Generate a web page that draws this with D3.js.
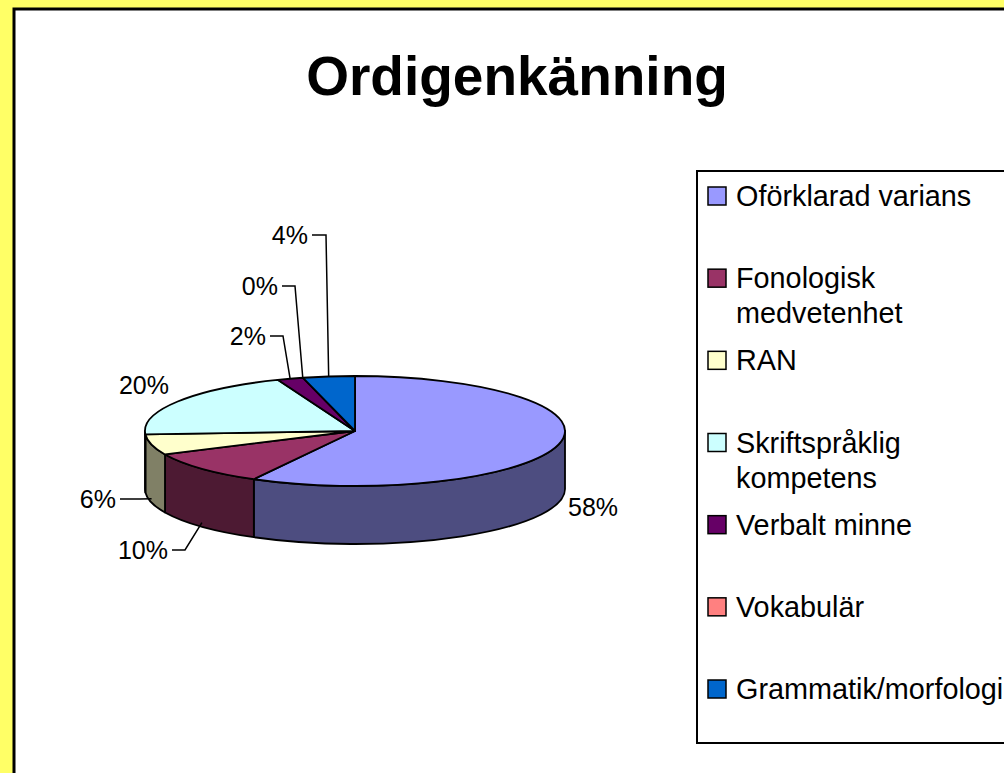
<!DOCTYPE html>
<html>
<head>
<meta charset="utf-8">
<script src="https://cdn.jsdelivr.net/npm/d3@7"></script>
<style>
  body { margin: 0; overflow: hidden; background: #ffff66; }
  text { font-family: "Liberation Sans", Arial, sans-serif; fill: #000; }
</style>
</head>
<body>
<script>
// data
var kategorier = ["Oförklarad varians", "Fonologisk medvetenhet", "RAN", "Skriftspråklig kompetens", "Verbalt minne", "Vokabulär", "Grammatik/morfologi"];
var legendRader = [["Oförklarad varians"], ["Fonologisk", "medvetenhet"], ["RAN"], ["Skriftspråklig", "kompetens"], ["Verbalt minne"], ["Vokabulär"], ["Grammatik/morfologi"]];
var andelar = [58, 10, 6, 20, 2, 0, 4];
var kleuren = ["#9999ff", "#993366", "#ffffcc", "#ccffff", "#660066", "#ff8080", "#0066cc"];
var titel = "Ordigenkänning";

var breedte = 1004, hoogte = 773;

var svg = d3.select("body").append("svg")
    .attr("width", breedte)
    .attr("height", hoogte);

// gele rand + wit vlak
svg.append("rect").attr("width", breedte).attr("height", hoogte).attr("fill", "#ffff66");
svg.append("rect")
    .attr("x", 14).attr("y", 9)
    .attr("width", breedte + 20).attr("height", hoogte + 20)
    .attr("fill", "#fff").attr("stroke", "#000").attr("stroke-width", 3);

svg.append("text")
    .attr("x", 517).attr("y", 95)
    .attr("text-anchor", "middle")
    .attr("font-size", "55px")
    .attr("font-weight", "bold")
    .text(titel);

// 3D taart
var cx = 355, cy = 431, rx = 210, ry = 55, diepte = 58;

var pie = d3.pie().sort(null).value(function(d) { return d; });
var stukken = pie(andelar);

function punt(a, dy) {
  return [cx + rx * Math.sin(a), cy - ry * Math.cos(a) + (dy || 0)];
}

var taart = svg.append("g");

// zijkanten (alleen voorkant zichtbaar)
stukken.forEach(function(s, i) {
  var a0 = Math.max(s.startAngle, Math.PI / 2);
  var a1 = Math.min(s.endAngle, 3 * Math.PI / 2);
  if (a1 <= a0) return;
  var p0 = punt(a0), p1 = punt(a1), q1 = punt(a1, diepte), q0 = punt(a0, diepte);
  var groot = (a1 - a0) > Math.PI ? 1 : 0;
  var c = d3.rgb(kleuren[i]);
  var donker = d3.rgb(c.r / 2, c.g / 2, c.b / 2);
  var p = "M" + p0 + "A" + rx + "," + ry + " 0 " + groot + " 1 " + p1 +
          "L" + q1 + "A" + rx + "," + ry + " 0 " + groot + " 0 " + q0 + "Z";
  taart.append("path")
      .attr("d", p)
      .attr("fill", donker)
      .attr("stroke", "#000")
      .attr("stroke-width", 1.8)
      .attr("stroke-linejoin", "round");
});

// bovenkant
stukken.forEach(function(s, i) {
  if (s.endAngle - s.startAngle <= 0) return;
  var p0 = punt(s.startAngle), p1 = punt(s.endAngle);
  var groot = (s.endAngle - s.startAngle) > Math.PI ? 1 : 0;
  var p = "M" + cx + "," + cy + "L" + p0 + "A" + rx + "," + ry + " 0 " + groot + " 1 " + p1 + "Z";
  taart.append("path")
      .attr("d", p)
      .attr("fill", kleuren[i])
      .attr("stroke", "#000")
      .attr("stroke-width", 1.8)
      .attr("stroke-linejoin", "round");
});

// labels: plek van de tekst + knikpunt van de lijn
var labelPlek = [
  {x: 568, y: 507, anker: "start"},
  {x: 168, y: 550, anker: "end", knik: [185, 550]},
  {x: 116, y: 499, anker: "end", knik: [140, 499]},
  {x: 169, y: 385, anker: "end"},
  {x: 266, y: 336, anker: "end", knik: [283, 336]},
  {x: 278, y: 286, anker: "end", knik: [295, 286]},
  {x: 308, y: 235, anker: "end", knik: [326, 235]}
];

var labels = svg.append("g");
stukken.forEach(function(s, i) {
  var l = labelPlek[i];
  var mid = (s.startAngle + s.endAngle) / 2;
  var voor = Math.cos(mid) < 0;
  var doel = punt(mid, voor ? diepte - 4 : 0);
  if (l.knik) {
    labels.append("path")
        .attr("d", d3.line()([[l.x + 4, l.y], l.knik, doel]))
        .attr("fill", "none")
        .attr("stroke", "#000")
        .attr("stroke-width", 1.5);
  }
  labels.append("text")
      .attr("x", l.x).attr("y", l.y)
      .attr("dy", "0.35em")
      .attr("text-anchor", l.anker)
      .attr("font-size", "25px")
      .text(d3.format(".0%")(s.data / 100));
});

// legenda
var legenda = svg.append("g");
legenda.append("rect")
    .attr("x", 697).attr("y", 171)
    .attr("width", 400).attr("height", 572)
    .attr("fill", "#fff").attr("stroke", "#000").attr("stroke-width", 2);

var rijY = d3.scaleLinear().domain([0, kategorier.length - 1]).range([196, 689]);

legendRader.forEach(function(regels, i) {
  var y = rijY(i);
  legenda.append("rect")
      .attr("x", 708).attr("y", y - 9)
      .attr("width", 18).attr("height", 18)
      .attr("fill", kleuren[i]).attr("stroke", "#000").attr("stroke-width", 1.5);
  var t = legenda.append("text")
      .attr("x", 736).attr("y", y)
      .attr("font-size", "28.8px");
  regels.forEach(function(r, j) {
    t.append("tspan").attr("x", 736).attr("dy", j === 0 ? "0.35em" : "35px").text(r);
  });
});
</script>
</body>
</html>
